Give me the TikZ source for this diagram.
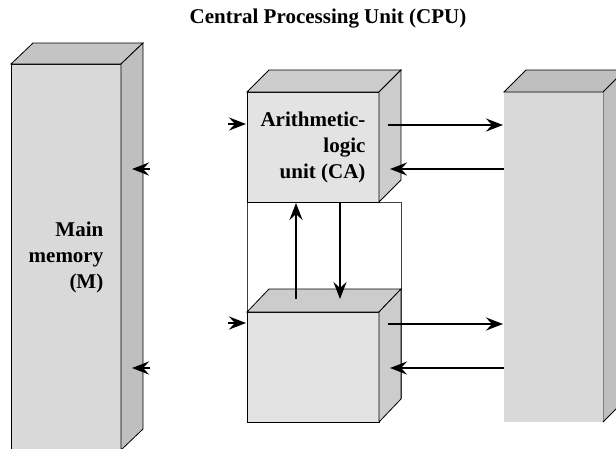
\documentclass[tikz,border=0pt]{standalone}
\usepackage{fontspec}
\setmainfont{Liberation Serif}
\usetikzlibrary{arrows.meta}
\usetikzlibrary{calc}

\begin{document}
\begin{tikzpicture}[x=1pt, y=-1pt, line width=0.8pt,
    label text/.style={font=\bfseries\fontsize{21}{26}\selectfont},
    box/.style={draw, inner sep=0pt, outer sep=0pt, align=right, label text},
    bus/.style={-{Stealth[length=17pt, width=13pt, inset=6pt]},
                line width=2.6pt, shorten >=1pt}]
      \clip (0,0) rectangle (616,448);

      \node[label text, anchor=base] (cpu-title) at (328,23)
           {Central Processing Unit (CPU)};

      % main memory
      \node[box, fill=gray!30, minimum width=110pt, minimum height=386pt]
           (mem) at (66,257) {Main\\memory\\(M)};
      \filldraw[fill=gray!46] (mem.north west) -- ++(22,-21) -- ++(110,0)
           -- (mem.north east) -- cycle;
      \filldraw[fill=gray!50] (mem.north east) -- ++(22,-21)
           -- ($(mem.south east)+(22,-21)$) -- (mem.south east) -- cycle;

      % cpu outline
      \coordinate (cpu-corner) at (401,398);
      \node[inner sep=0pt, outer sep=0pt, minimum width=132pt, minimum height=110pt]
           (alu-place) at (313,147) {};
      \draw[black!75] (alu-place.south west) rectangle (cpu-corner);

      % arithmetic-logic unit
      \node[box, fill=gray!22, minimum width=132pt, minimum height=110pt]
           (alu) at (313,147) {Arithmetic-\\logic\\unit (CA)};
      \filldraw[fill=gray!40] (alu.north west) -- ++(22,-22) -- ++(132,0)
           -- (alu.north east) -- cycle;
      \filldraw[fill=gray!40] (alu.north east) -- ++(22,-22)
           -- ($(alu.south east)+(22,-22)$) -- (alu.south east) -- cycle;

      % lower unit
      \node[box, fill=gray!22, minimum width=132pt, minimum height=110pt]
           (cu) at (313,367) {};
      \filldraw[fill=gray!40] (cu.north west) -- ++(22,-23) -- ++(132,0)
           -- (cu.north east) -- cycle;
      \filldraw[fill=gray!40] (cu.north east) -- ++(22,-23)
           -- ($(cu.south east)+(22,-23)$) -- (cu.south east) -- cycle;

      % i/o
      \node[fill=gray!30, inner sep=0pt, outer sep=0pt, minimum width=99pt,
           minimum height=330pt] (io) at (553.5,257) {};
      \fill[gray!50] (io.north east) -- ++(22,-22)
           -- ($(io.south east)+(22,-22)$) -- (io.south east) -- cycle;
      \draw[gray] (io.north east) -- (io.south east);
      \draw (io.south east) -- ++(22,-22);
      \filldraw[fill=gray!50] (io.north west) -- ++(22,-22) -- ++(99,0)
           -- (io.north east) -- cycle;

      % buses
      \coordinate (alu-out) at (388,125);
      \coordinate (alu-in) at (389,169);
      \coordinate (cu-out) at (388,324);
      \coordinate (cu-in) at (389,368);
      \draw[bus] (alu-out) -- (io.west |- alu-out);
      \draw[bus] (io.west |- alu-in) -- (alu-in);
      \draw[bus] (cu-out) -- (io.west |- cu-out);
      \draw[bus] (io.west |- cu-in) -- (cu-in);

      \coordinate (cu-up) at (296,299);
      \coordinate (cu-down) at (340,299);
      \draw[bus] (cu-up) -- (cu-up |- alu.south);
      \draw[bus, shorten >=0pt] (alu.south -| cu-down) -- (cu-down);

      \coordinate (alu-feed) at (228,124);
      \coordinate (cu-feed) at (228,323);
      \draw[bus] (alu-feed) -- (alu.west |- alu-feed);
      \draw[bus] (cu-feed) -- (cu.west |- cu-feed);

      \coordinate (mem-feed-a) at (150,169);
      \coordinate (mem-port-a) at (132,169);
      \coordinate (mem-feed-b) at (150,368);
      \coordinate (mem-port-b) at (132,368);
      \draw[bus, shorten >=0pt] (mem-feed-a) -- (mem-port-a);
      \draw[bus, shorten >=0pt] (mem-feed-b) -- (mem-port-b);
    \end{tikzpicture}
\end{document}
